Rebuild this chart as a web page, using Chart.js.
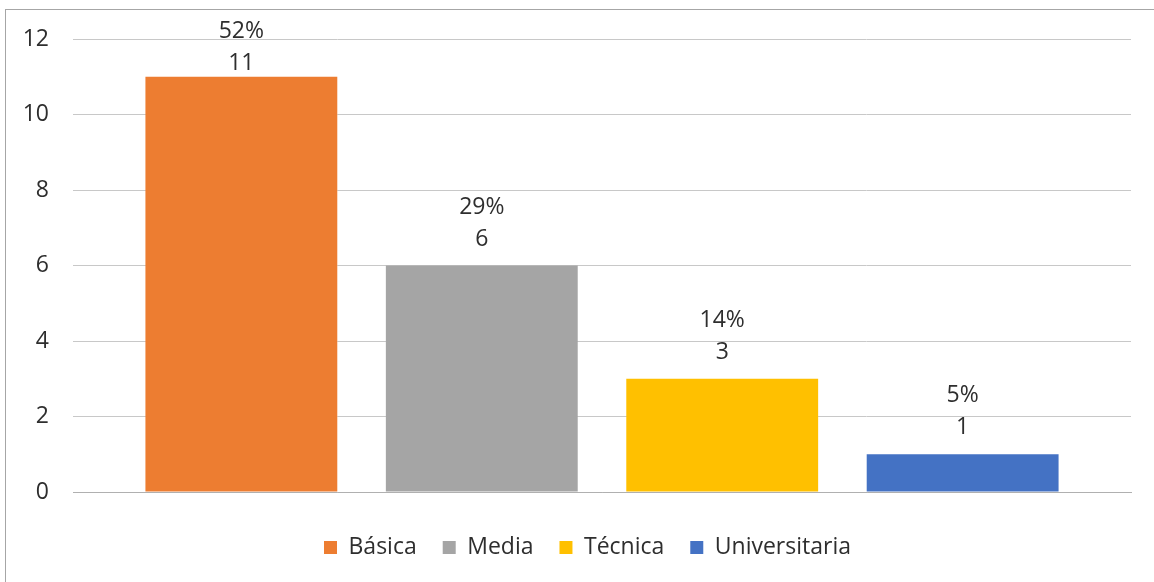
<!DOCTYPE html>
<html>
<head>
<meta charset="utf-8">
<script src="https://cdn.jsdelivr.net/npm/chart.js@4/dist/chart.umd.min.js"></script>
<style>
  html, body { margin: 0; padding: 0; background: #ffffff; overflow: hidden; }
  #wrap { position: relative; width: 1154px; height: 582px; }
  #frame { position: absolute; left: 5px; top: 9px; width: 1300px; height: 700px; border: 1px solid #a6a6a6; box-sizing: border-box; pointer-events: none; }
  canvas { position: absolute; left: 0; top: 0; }
</style>
</head>
<body>
<div id="wrap">
  <canvas id="c" width="1154" height="582"></canvas>
  <div id="frame"></div>
</div>
<script>
const categories = ['Básica', 'Media', 'Técnica', 'Universitaria'];
const counts = [11, 6, 3, 1];
const percents = ['52%', '29%', '14%', '5%'];
const colors = ['#ED7D31', '#A5A5A5', '#FFC000', '#4472C4'];
const yMin = 0, yMax = 12, yStep = 2;

const FONT = '"Open Sans", sans-serif';
const TEXT = '#2e2e2e';

const datasets = categories.map((c, i) => ({
  label: c,
  data: [counts[i]],
  backgroundColor: colors[i],
  borderWidth: 0,
  categoryPercentage: 0.909,
  barPercentage: 0.798
}));

const labelPlugin = {
  id: 'barLabels',
  afterLayout(chart) {
    if (chart.legend) {
      chart.legend.left += 22;
      chart.legend.right += 22;
    }
  },
  afterDatasetsDraw(chart) {
    const ctx = chart.ctx;
    const area = chart.chartArea;
    ctx.save();
    ctx.font = '23px ' + FONT;
    ctx.fillStyle = TEXT;
    ctx.textAlign = 'center';
    ctx.textBaseline = 'alphabetic';
    chart.data.datasets.forEach((ds, i) => {
      const meta = chart.getDatasetMeta(i);
      const bar = meta.data[0];
      if (!bar) return;
      const valueY = Math.max(bar.y - 28, area.top + 23);
      const pctY = valueY - 32;
      ctx.fillText(String(counts[i]), bar.x, valueY + 8);
      ctx.fillText(percents[i], bar.x, pctY + 8);
    });
    ctx.restore();
  }
};

new Chart(document.getElementById('c'), {
  type: 'bar',
  data: { labels: [''], datasets },
  options: {
    responsive: false,
    devicePixelRatio: 1,
    animation: false,
    layout: { padding: { left: 0, right: 23, top: 39, bottom: 13 } },
    scales: {
      x: {
        afterFit(scale) { scale.height = 18; },
        grid: { display: false },
        border: { display: true, color: '#b0b0b0' },
        ticks: { display: false }
      },
      y: {
        min: yMin, max: yMax,
        afterFit(scale) { scale.width = 73; },
        grid: { color: '#c8c8c8', drawTicks: false },
        border: { display: false },
        ticks: {
          stepSize: yStep,
          padding: 24,
          color: TEXT,
          font: { family: FONT, size: 23 }
        }
      }
    },
    plugins: {
      legend: {
        position: 'bottom',
        labels: {
          boxWidth: 13,
          boxHeight: 13,
          padding: 26,
          color: TEXT,
          font: { family: FONT, size: 23 }
        }
      },
      tooltip: { enabled: false }
    }
  },
  plugins: [labelPlugin]
});
</script>
</body>
</html>
